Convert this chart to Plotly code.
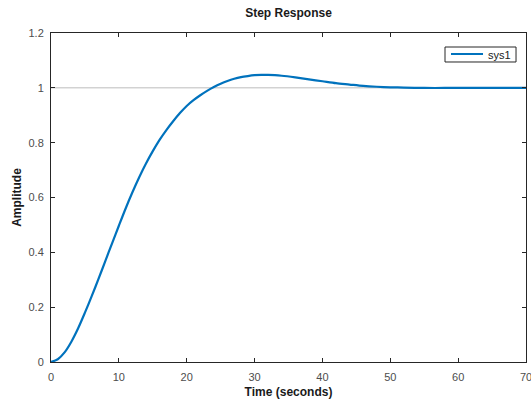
import plotly.graph_objects as go

# Step response samples
time_s = [0, 1, 2, 3, 4, 5, 6, 7, 8, 9, 10, 11, 12, 13, 14, 15, 16, 17, 18, 19,
          20, 21, 22, 23, 24, 25, 26, 27, 28, 29, 30, 31, 32, 33, 34, 36, 38, 40,
          42, 44, 46, 48, 50, 52, 55, 58, 62, 66, 70]
amplitude = [0.0, 0.01, 0.035, 0.074, 0.123, 0.18, 0.24, 0.303, 0.368, 0.433, 0.497,
             0.56, 0.619, 0.674, 0.724, 0.769, 0.81, 0.846, 0.878, 0.908, 0.934,
             0.955, 0.973, 0.989, 1.003, 1.015, 1.025, 1.033, 1.039, 1.043, 1.046,
             1.047, 1.047, 1.046, 1.044, 1.038, 1.031, 1.024, 1.017, 1.012, 1.007,
             1.004, 1.002, 1.001, 0.9995, 0.9995, 0.9998, 1.0, 1.0]
steady_state = [1.0, 1.0]
steady_t = [0, 70]
series_name = "sys1"

x_ticks = [0, 10, 20, 30, 40, 50, 60, 70]
y_ticks = [0, 0.2, 0.4, 0.6, 0.8, 1.0, 1.2]
y_tick_text = ["0", "0.2", "0.4", "0.6", "0.8", "1", "1.2"]

FONT = "Liberation Sans, Arial"
LINE_COLOR = "#0072BD"

fig = go.Figure()
fig.add_trace(go.Scatter(x=steady_t, y=steady_state, mode="lines",
                         line=dict(color="#bdbdbd", width=1),
                         showlegend=False, hoverinfo="skip"))
fig.add_trace(go.Scatter(x=time_s, y=amplitude, mode="lines", name=series_name,
                         line=dict(color=LINE_COLOR, width=2.2, shape="spline", smoothing=0.8),
                         showlegend=False))

axis_common = dict(showgrid=False, zeroline=False, showline=True, mirror="ticks",
                   linecolor="#262626", linewidth=1, ticks="inside", ticklen=4,
                   tickcolor="#262626", automargin=False, ticklabeloverflow="allow",
                   tickfont=dict(family=FONT, size=11, color="#4d4d4d"))

# MATLAB-style legend box (compact)
fig.add_shape(type="rect", xref="paper", yref="paper",
              x0=0.8295, x1=0.979, y0=0.9119, y1=0.9574,
              line=dict(color="#262626", width=1), fillcolor="white", layer="above")
fig.add_shape(type="line", xref="paper", yref="paper",
              x0=0.8421, x1=0.9095, y0=0.9362, y1=0.9362,
              line=dict(color=LINE_COLOR, width=2.2), layer="above")
fig.add_annotation(text=series_name, xref="paper", yref="paper",
                   x=0.9158, y=0.9346, xanchor="left", yanchor="middle",
                   showarrow=False, font=dict(family=FONT, size=11, color="#1a1a1a"))

fig.update_layout(
    width=531, height=404,
    margin=dict(l=51, r=5, t=33, b=42),
    paper_bgcolor="white", plot_bgcolor="white",
    title=dict(text="<b>Step Response</b>", x=0.5, xref="paper", xanchor="center",
               y=1 - 13 / 404, yanchor="middle",
               font=dict(family=FONT, size=12, color="#1a1a1a")),
    xaxis=dict(range=[0, 70], tickvals=x_ticks, ticklabelstandoff=5,
               title=dict(text="<b>Time (seconds)</b>", standoff=5,
                          font=dict(family=FONT, size=12, color="#1a1a1a")),
               **axis_common),
    yaxis=dict(range=[0, 1.2], tickvals=y_ticks, ticktext=y_tick_text,
               ticklabelstandoff=4,
               title=dict(text="<b>Amplitude</b>", standoff=4,
                          font=dict(family=FONT, size=12, color="#1a1a1a")),
               **axis_common),
    showlegend=False,
)

fig.write_html("out.html", config={"displayModeBar": False},
               post_script="document.body.style.margin='0';")
